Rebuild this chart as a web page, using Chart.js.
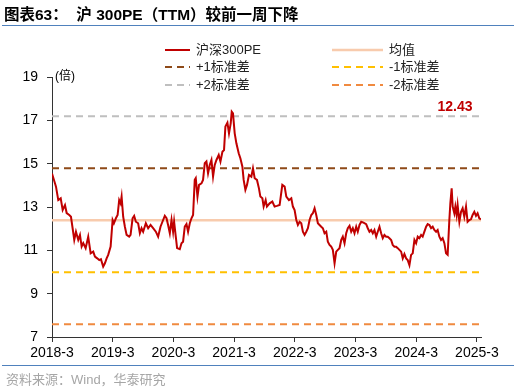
<!DOCTYPE html>
<html>
<head>
<meta charset="utf-8">
<script src="https://cdn.jsdelivr.net/npm/chart.js@4.4.1/dist/chart.umd.min.js"></script>
<style>
  html, body { margin: 0; padding: 0; background: #fff; }
  #wrap { width: 516px; height: 392px; }
</style>
</head>
<body>
<div id="wrap"><canvas id="peChart" width="516" height="392"></canvas></div>
<script>
// months since 2018-03
const months = [0, 0.79, 1.24, 1.72, 2.11, 2.57, 2.90, 3.41, 3.75, 4.21, 4.40, 4.74, 5.19, 5.53, 5.86, 6.18, 6.65, 7.16, 7.64, 8.15,
  8.49, 8.94, 9.34, 9.67, 10.12, 10.46, 10.80, 11.11, 11.59, 11.98, 12.24, 12.63, 12.97, 13.28, 13.56, 13.76, 14.07, 14.41, 14.75, 15.26,
  15.53, 15.93, 16.24, 16.58, 17.03, 17.37, 17.70, 18.02, 18.55, 19.01, 19.48, 19.99, 20.53, 20.98, 21.45, 21.97, 22.30, 22.64, 22.95, 23.29,
  23.63, 23.94, 24.14, 24.47, 24.73, 25.26, 25.60, 25.91, 26.25, 26.59, 26.90, 27.24, 27.57, 27.89, 28.22, 28.42, 28.76, 29.07, 29.55, 29.86,
  30.20, 30.53, 30.85, 31.18, 31.52, 31.84, 32.17, 32.51, 32.96, 33.30, 33.69, 34.01, 34.28, 34.68, 34.99, 35.33, 35.53, 35.78, 36.12, 36.45,
  36.91, 37.24, 37.64, 37.89, 38.23, 38.55, 38.94, 39.41, 39.73, 40.07, 40.52, 40.91, 41.19, 41.59, 41.84, 42.24, 42.49, 43.03, 43.56, 44.01,
  44.47, 45.00, 45.53, 45.99, 46.32, 46.84, 47.31, 47.62, 47.96, 48.30, 48.61, 48.95, 49.28, 49.60, 49.93, 50.27, 50.59, 50.92, 51.26, 51.57,
  51.91, 52.24, 52.56, 52.89, 53.23, 53.55, 53.88, 54.22, 54.53, 54.87, 55.20, 55.52, 55.86, 56.19, 56.51, 56.84, 57.18, 57.49, 57.83, 58.16,
  58.48, 58.82, 59.15, 59.47, 59.80, 60.14, 60.45, 60.79, 61.13, 61.58, 62.11, 62.43, 62.76, 63.10, 63.42, 63.75, 64.09, 64.40, 64.74, 65.07,
  65.39, 65.72, 66.06, 66.37, 66.71, 67.05, 67.36, 67.70, 68.03, 68.35, 68.68, 69.02, 69.34, 69.67, 70.01, 70.32, 70.66, 70.99, 71.31, 71.65,
  71.98, 72.30, 72.63, 72.97, 73.28, 73.62, 73.96, 74.27, 74.61, 74.94, 75.26, 75.59, 75.93, 76.24, 76.58, 76.91, 77.23, 77.57, 77.90, 78.22,
  78.55, 78.75, 79.01, 79.21, 79.54, 79.74, 79.99, 80.19, 80.53, 80.86, 81.18, 81.51, 81.85, 82.16, 82.50, 82.83, 83.15, 83.49, 83.82, 84.14,
  84.47, 84.81];

const pe = [14.55, 13.94, 13.32, 13.40, 12.86, 13.09, 12.72, 12.63, 12.55, 11.80, 11.48, 11.86, 11.48, 11.71, 11.17, 11.33, 11.10, 11.63, 10.86, 10.94,
  10.71, 10.63, 10.55, 10.59, 10.25, 10.40, 10.63, 10.79, 11.17, 12.40, 12.25, 12.48, 12.63, 13.32, 13.17, 13.48, 12.55, 12.09, 11.71, 11.63,
  11.71, 12.48, 12.59, 12.32, 12.25, 11.79, 12.02, 11.86, 12.25, 12.02, 12.17, 12.02, 11.86, 11.63, 12.09, 12.40, 12.59, 12.48, 12.17, 11.79,
  12.40, 11.86, 12.32, 11.63, 11.10, 11.05, 11.33, 11.40, 12.09, 12.21, 11.86, 12.25, 12.48, 12.63, 14.25, 14.33, 13.48, 14.02, 14.09, 14.25,
  15.02, 15.10, 14.56, 14.94, 15.17, 14.40, 14.94, 15.17, 15.40, 15.10, 15.55, 15.63, 16.71, 16.89, 16.40, 16.86, 17.40, 17.32, 16.40, 15.94,
  15.48, 15.25, 14.86, 14.25, 13.79, 14.02, 14.48, 14.40, 14.79, 14.33, 14.25, 13.86, 13.48, 13.40, 13.02, 13.32, 13.02, 13.17, 13.25, 13.02,
  13.05, 13.09, 14.02, 13.94, 13.48, 13.32, 13.40, 13.02, 12.86, 12.40, 12.17, 12.32, 12.25, 11.86, 11.71, 11.86, 12.02, 12.40, 12.63, 12.71,
  12.94, 12.63, 12.25, 12.17, 12.09, 12.02, 11.79, 11.86, 11.40, 11.25, 11.17, 11.02, 10.40, 10.94, 11.02, 11.10, 11.48, 11.63, 11.33, 11.79,
  12.02, 12.13, 11.86, 12.02, 11.79, 12.09, 11.86, 12.17, 12.32, 12.28, 12.21, 12.02, 11.86, 11.94, 11.79, 11.94, 11.63, 11.86, 12.09, 11.79,
  11.56, 11.71, 11.63, 11.63, 11.56, 11.48, 11.25, 11.17, 11.17, 11.10, 11.02, 10.94, 10.63, 10.83, 10.63, 10.55, 10.32, 10.79, 10.86, 11.48,
  11.33, 11.63, 11.56, 11.71, 11.63, 11.86, 12.09, 12.21, 12.17, 12.02, 12.09, 11.94, 11.86, 11.94, 11.63, 11.48, 11.56, 11.33, 10.86, 10.79,
  12.40, 13.17, 13.86, 13.02, 12.71, 13.02, 12.63, 13.09, 12.32, 12.78, 12.94, 12.55, 13.02, 12.32, 12.40, 12.43, 12.63, 12.78, 12.59, 12.71,
  12.48, 12.43];

const tickMonths = [0, 12, 24, 36, 48, 60, 72, 84];
const tickLabels = ['2018-3', '2019-3', '2020-3', '2021-3', '2022-3', '2023-3', '2024-3', '2025-3'];

const seriesName = '沪深300PE';
const bandNames = ['均值', '+1标准差', '-1标准差', '+2标准差', '-2标准差'];
const bandValues = [12.39, 14.79, 9.99, 17.19, 7.59];
const bandColors = ['#F8CBAD', '#8E4A18', '#FFC000', '#BFBFBF', '#F08A40'];

const latestLabel = '12.43';
const titleText = '图表63：  沪 300PE（TTM）较前一周下降';
const sourceText = '资料来源：Wind，华泰研究';

const FONT = "'Liberation Sans', 'Noto Sans CJK SC', sans-serif";
const xEnd = months[months.length - 1];

const datasets = [{
  label: seriesName,
  data: months.map((m, i) => ({ x: m, y: pe[i] })),
  borderColor: '#C00000',
  borderWidth: 2,
  pointRadius: 0,
  tension: 0
}];
bandNames.forEach((name, i) => {
  datasets.push({
    label: name,
    data: [{ x: 0, y: bandValues[i] }, { x: xEnd, y: bandValues[i] }],
    borderColor: bandColors[i],
    borderWidth: i === 0 ? 2.5 : 2,
    borderDash: i === 0 ? [] : [7, 5],
    pointRadius: 0
  });
});

const decor = {
  id: 'decor',
  afterDraw(chart) {
    const ctx = chart.ctx;
    ctx.save();

    // title + rules
    ctx.fillStyle = '#000';
    ctx.font = 'bold 15.5px ' + FONT;
    ctx.textBaseline = 'alphabetic';
    ctx.textAlign = 'left';
    ctx.fillText(titleText, 4, 20);
    ctx.strokeStyle = '#4F81BD';
    ctx.lineWidth = 1.2;
    ctx.beginPath();
    ctx.moveTo(2, 25.5); ctx.lineTo(514, 25.5);
    ctx.moveTo(2, 365.5); ctx.lineTo(514, 365.5);
    ctx.stroke();

    // source
    ctx.fillStyle = '#A6A6A6';
    ctx.font = '13px ' + FONT;
    ctx.textBaseline = 'middle';
    ctx.fillText(sourceText, 6, 380);

    // unit
    ctx.fillStyle = '#000';
    ctx.font = '12px ' + FONT;
    ctx.fillText('(倍)', 55, 77);

    // legend
    ctx.font = '13px ' + FONT;
    const colX = [[165, 190, 196], [332, 383, 389]];
    const rowY = [50, 67, 85];
    chart.data.datasets.forEach((ds, i) => {
      const c = colX[i % 2], y = rowY[Math.floor(i / 2)];
      ctx.strokeStyle = ds.borderColor;
      ctx.lineWidth = ds.borderWidth;
      ctx.setLineDash(ds.borderDash || []);
      ctx.beginPath();
      ctx.moveTo(c[0], y); ctx.lineTo(c[1], y);
      ctx.stroke();
      ctx.setLineDash([]);
      ctx.fillStyle = '#222';
      ctx.fillText(ds.label, c[2], y);
    });

    // latest value
    const xs = chart.scales.x, ys = chart.scales.y;
    ctx.fillStyle = '#C00000';
    ctx.font = 'bold 14px ' + FONT;
    ctx.textAlign = 'center';
    ctx.textBaseline = 'bottom';
    ctx.fillText(latestLabel, xs.getPixelForValue(xEnd) - 26, ys.getPixelForValue(bandValues[3]) - 2);
    ctx.restore();
  }
};

new Chart(document.getElementById('peChart'), {
  type: 'line',
  data: { datasets: datasets },
  options: {
    responsive: false,
    animation: false,
    devicePixelRatio: 1,
    layout: { padding: { top: 77, right: 35, left: 0, bottom: 0 } },
    plugins: { legend: { display: false }, tooltip: { enabled: false } },
    scales: {
      x: {
        type: 'linear',
        min: 0,
        max: xEnd,
        afterBuildTicks: s => { s.ticks = tickMonths.map(v => ({ value: v })); },
        afterFit: s => { s.height = 55; },
        ticks: {
          autoSkip: false,
          maxRotation: 0,
          padding: 3,
          color: '#000',
          font: { size: 14, family: FONT },
          callback: v => tickLabels[tickMonths.indexOf(v)]
        },
        grid: { drawOnChartArea: false, drawTicks: true, tickLength: 5, color: '#333' },
        border: { display: true, color: '#333', width: 1 }
      },
      y: {
        min: 7,
        max: 19,
        afterFit: s => { s.width = 52; },
        ticks: { stepSize: 2, padding: 9, color: '#000', font: { size: 14, family: FONT } },
        grid: { drawOnChartArea: false, drawTicks: true, tickLength: 5, color: '#333' },
        border: { display: true, color: '#333', width: 1 }
      }
    }
  },
  plugins: [decor]
});
</script>
</body>
</html>
